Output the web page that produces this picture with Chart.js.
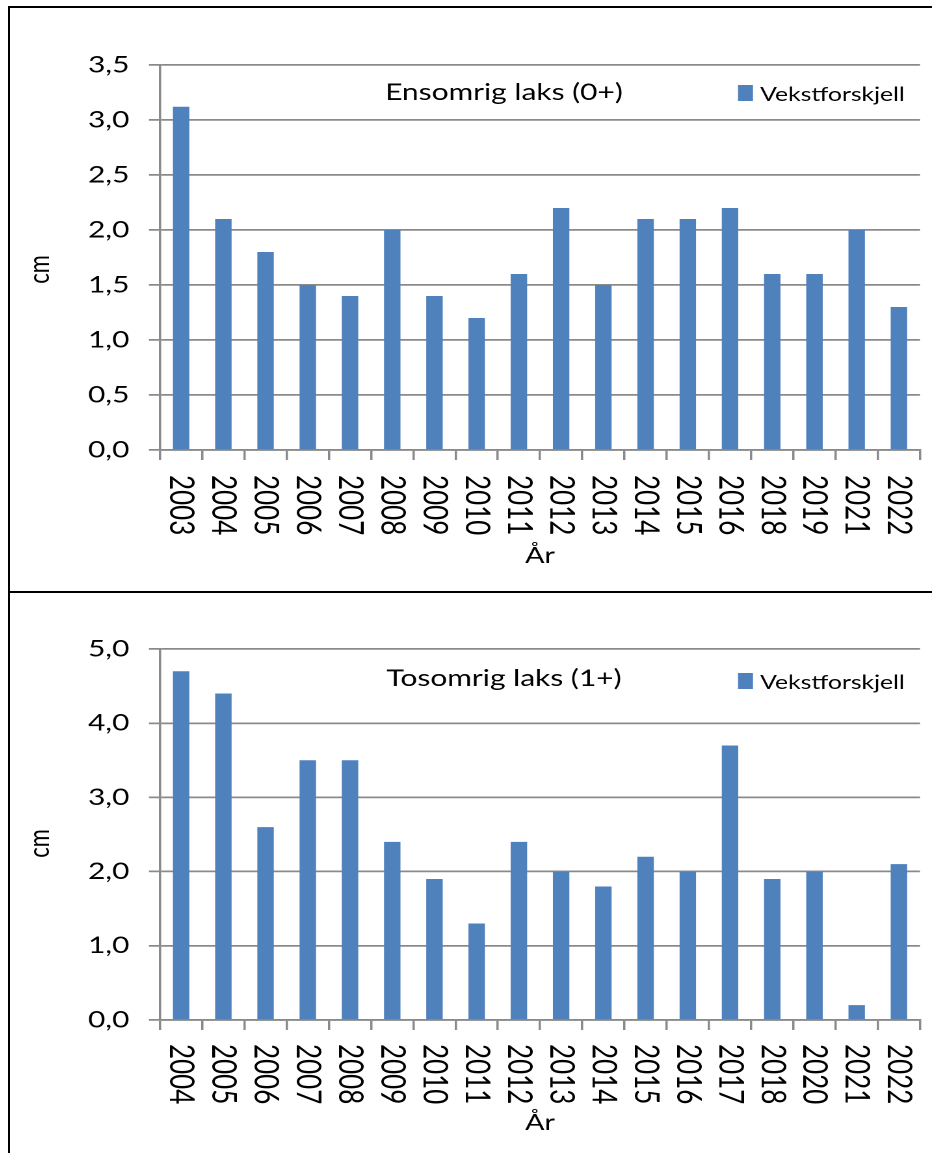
<!DOCTYPE html>
<html>
<head>
<meta charset="utf-8">
<title>Vekstforskjell laks</title>
<script src="https://cdn.jsdelivr.net/npm/chart.js@4/dist/chart.umd.min.js"></script>
<style>
  html, body { margin: 0; padding: 0; background: #fff; }
  body { width: 932px; height: 1153px; position: relative; overflow: hidden; }
  .rule { position: absolute; background: #000; }
  /* panels are laid out narrow and widened horizontally */
  .panel { position: absolute; left: 10px; width: 709px; transform: scaleX(1.3004); transform-origin: 0 0; }
</style>
</head>
<body>
<div class="rule" style="left:8px;top:6px;width:2px;height:1147px"></div>
<div class="rule" style="left:8px;top:6px;width:924px;height:2px"></div>
<div class="rule" style="left:8px;top:591px;width:924px;height:2px"></div>
<div class="panel" style="top:8px;height:583px"><canvas id="c1"></canvas></div>
<div class="panel" style="top:593px;height:560px"><canvas id="c2"></canvas></div>
<script>
// Ensomrig laks (0+)
const years0 = ['2003','2004','2005','2006','2007','2008','2009','2010','2011','2012',
                '2013','2014','2015','2016','2018','2019','2021','2022'];
const growth0 = [3.12, 2.1, 1.8, 1.5, 1.4, 2.0, 1.4, 1.2, 1.6, 2.2,
                 1.5, 2.1, 2.1, 2.2, 1.6, 1.6, 2.0, 1.3];
const yTicks0 = [0, 0.5, 1.0, 1.5, 2.0, 2.5, 3.0, 3.5];

// Tosomrig laks (1+)
const years1 = ['2004','2005','2006','2007','2008','2009','2010','2011','2012','2013',
                '2014','2015','2016','2017','2018','2020','2021','2022'];
const growth1 = [4.7, 4.4, 2.6, 3.5, 3.5, 2.4, 1.9, 1.3, 2.4, 2.0,
                 1.8, 2.2, 2.0, 3.7, 1.9, 2.0, 0.2, 2.1];
const yTicks1 = [0, 1.0, 2.0, 3.0, 4.0, 5.0];

const seriesName = 'Vekstforskjell';
const yTitle = 'cm';
const BAR = '#4f81bd';
const GRID = '#8a8a8a';
const FONT = 'Lato';

// Year labels run top-to-bottom; the unit label, heading and key sit around the plot
const overlay = {
  id: 'overlay',
  afterDraw(chart, args, o) {
    const { ctx, chartArea: a } = chart;
    const x = chart.scales.x;
    ctx.save();
    ctx.fillStyle = '#000';
    ctx.font = '26px ' + FONT;
    ctx.textAlign = 'left';
    ctx.textBaseline = 'middle';
    chart.data.labels.forEach((lab, i) => {
      ctx.save();
      ctx.translate(x.getPixelForTick(i), a.bottom + o.labelGap);
      ctx.rotate(Math.PI / 2);
      ctx.fillText(lab, 0, 0);
      ctx.restore();
    });

    // unit label on the value axis
    ctx.save();
    ctx.font = '22px ' + FONT;
    ctx.textAlign = 'center';
    ctx.translate(o.unitX, (a.top + a.bottom) / 2 + o.unitShift);
    ctx.rotate(-Math.PI / 2);
    ctx.fillText(yTitle, 0, 0);
    ctx.restore();

    ctx.font = '23px ' + FONT;
    ctx.textAlign = 'center';
    ctx.textBaseline = 'alphabetic';
    ctx.fillText(o.heading, a.left + o.headingX, a.top + o.headingY);

    const ds = chart.data.datasets[0];
    ctx.fillStyle = ds.backgroundColor;
    ctx.fillRect(a.left + o.keyX, a.top + o.keyY, 11.5, 16);
    ctx.fillStyle = '#000';
    ctx.font = '19px ' + FONT;
    ctx.textAlign = 'left';
    ctx.fillText(ds.label, a.left + o.keyX + 17, a.top + o.keyY + 16);
    ctx.restore();
  }
};

function makeChart(id, labels, values, ticks, cfg) {
  return new Chart(document.getElementById(id), {
    type: 'bar',
    data: {
      labels: labels,
      datasets: [{
        label: seriesName,
        data: values,
        backgroundColor: BAR,
        borderWidth: 0,
        categoryPercentage: 1.0,
        barPercentage: 0.39
      }]
    },
    options: {
      responsive: true,
      maintainAspectRatio: false,
      devicePixelRatio: 2,
      animation: false,
      layout: { padding: { top: cfg.top, right: 9.2, left: 0, bottom: 0 } },
      plugins: {
        legend: { display: false },
        tooltip: { enabled: false },
        overlay: cfg.overlay
      },
      scales: {
        x: {
          offset: true,
          grid: { display: true, offset: true, drawOnChartArea: false, drawTicks: true,
                  tickLength: 10, color: GRID, lineWidth: 1.75 },
          border: { display: true, color: GRID, width: 1.75 },
          ticks: { display: false },
          title: { display: true, text: 'År', color: '#000',
                   font: { family: FONT, size: 22 }, padding: { top: 0, bottom: cfg.xTitlePad } },
          afterFit(s) { s.height = cfg.xHeight; }
        },
        y: {
          min: 0,
          max: ticks[ticks.length - 1],
          afterBuildTicks(s) { s.ticks = ticks.map(v => ({ value: v })); },
          grid: { color: GRID, lineWidth: 1.75, drawTicks: true, tickLength: 8.5 },
          border: { display: true, color: GRID, width: 1.75 },
          ticks: {
            padding: 15, color: '#000', font: { family: FONT, size: 23 },
            callback: v => Number(v).toFixed(1).replace('.', ',')
          },
          title: { display: false },
          afterFit(s) { s.width = 115.35; }
        }
      }
    },
    plugins: [overlay]
  });
}

function draw() {
  makeChart('c1', years0, growth0, yTicks0, {
    top: 57, xHeight: 141, xTitlePad: 22,
    overlay: { heading: 'Ensomrig laks (0+)', labelGap: 25, headingX: 264.5, headingY: 35,
               keyX: 444.5, keyY: 20, unitX: 23, unitShift: 12 }
  });
  makeChart('c2', years1, growth1, yTicks1, {
    top: 56, xHeight: 133, xTitlePad: 17,
    overlay: { heading: 'Tosomrig laks (1+)', labelGap: 24, headingX: 264.5, headingY: 37,
               keyX: 444.5, keyY: 24, unitX: 23, unitShift: 9 }
  });
}

if (document.fonts && document.fonts.load) {
  Promise.all([document.fonts.load('20px Lato'), document.fonts.load('26px Lato')])
    .then(draw, draw);
} else {
  draw();
}
</script>
</body>
</html>
